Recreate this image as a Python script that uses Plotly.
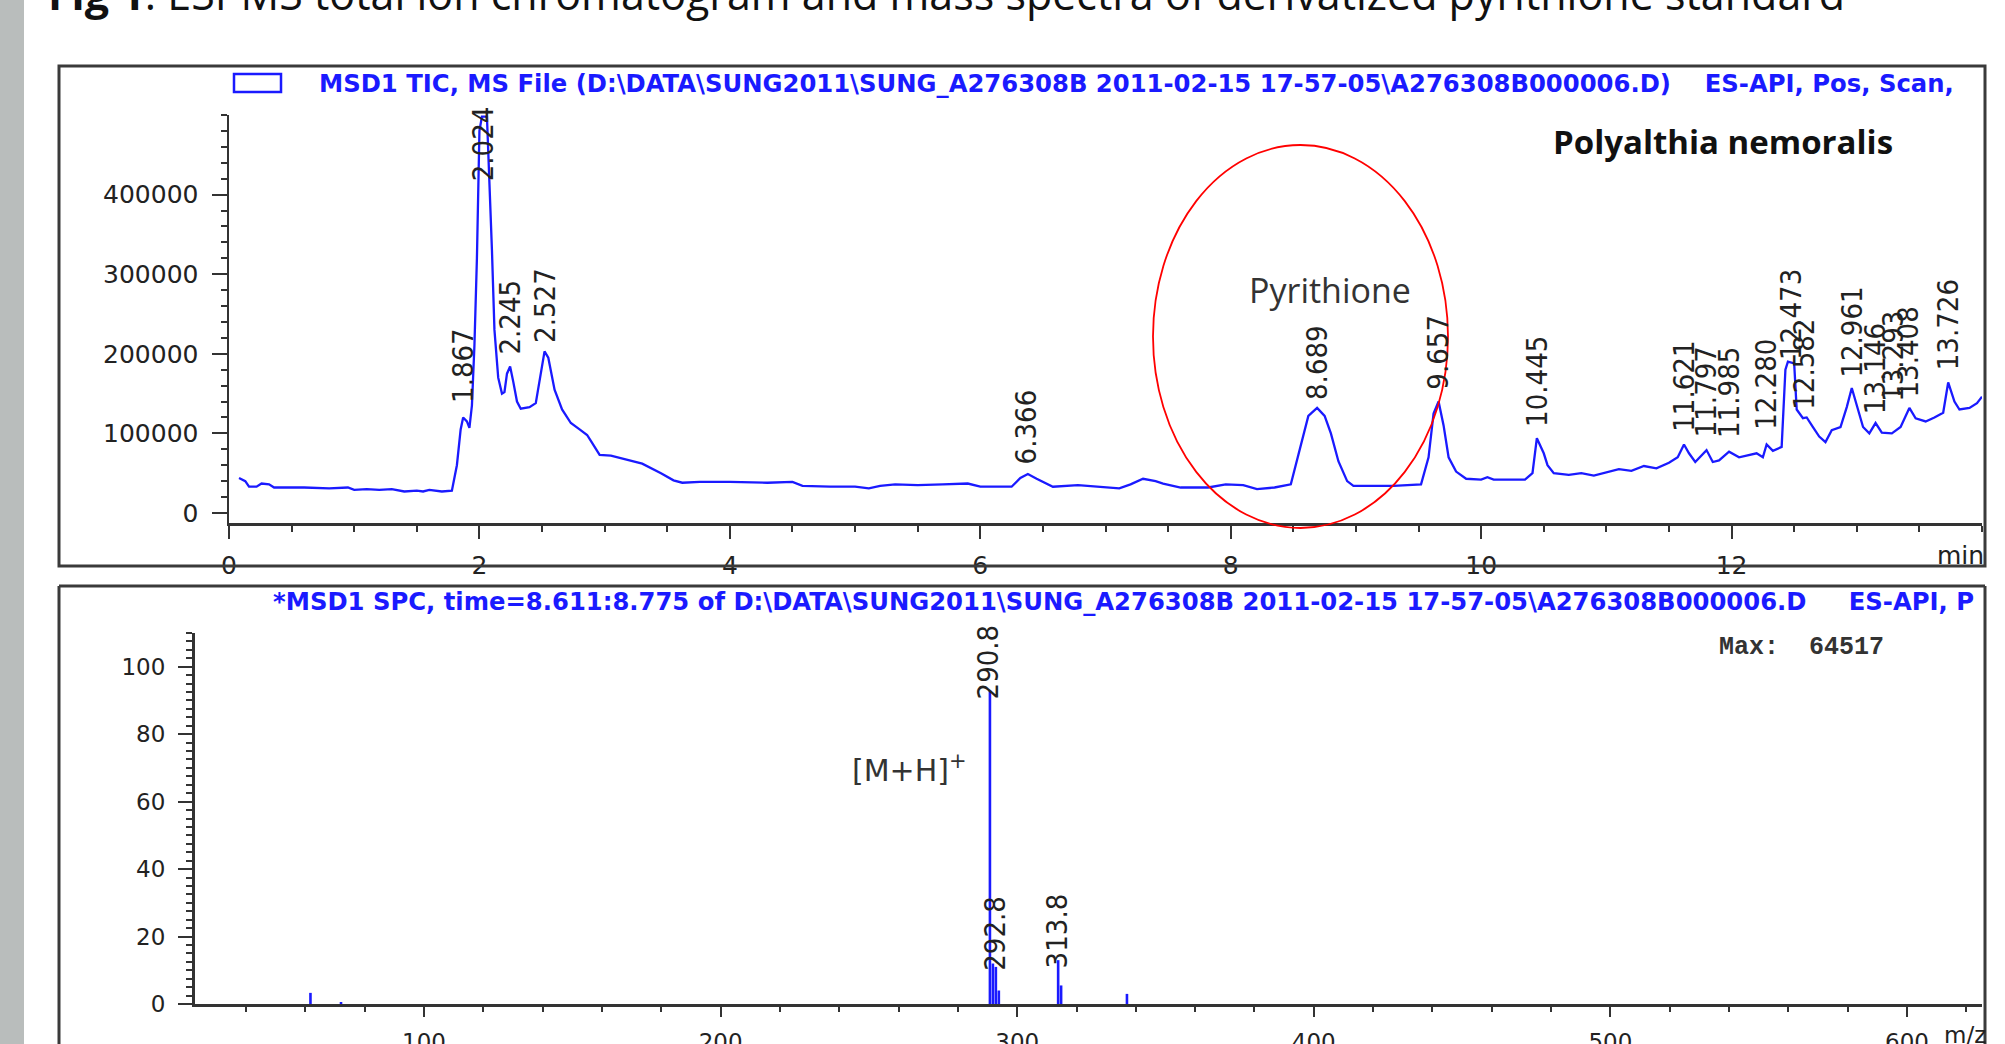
import plotly.graph_objects as go

W, H = 2005, 1044
def px(x): return x / W
def py(y): return 1 - y / H

# ---------------- data ----------------
tic_time = [0.08, 0.13, 0.16, 0.22, 0.26, 0.32, 0.36, 0.6, 0.8, 0.95, 1.0, 1.1, 1.2, 1.3, 1.4, 1.5,
            1.55, 1.6, 1.7, 1.78, 1.82, 1.85, 1.87, 1.9, 1.92, 1.94, 1.96, 1.98, 2.0, 2.02, 2.06,
            2.08, 2.1, 2.12, 2.15, 2.18, 2.2, 2.22, 2.245, 2.27, 2.3, 2.33, 2.4, 2.45, 2.48, 2.52,
            2.55, 2.6, 2.66, 2.73, 2.8, 2.86, 2.9, 2.96, 3.05, 3.16, 3.3, 3.45, 3.55, 3.62, 3.76,
            4.0, 4.3, 4.5, 4.58, 4.8, 5.0, 5.11, 5.2, 5.32, 5.5, 5.7, 5.9, 6.0, 6.25, 6.32, 6.38,
            6.45, 6.58, 6.78, 6.95, 7.11, 7.2, 7.3, 7.4, 7.46, 7.6, 7.82, 7.96, 8.1, 8.21, 8.35,
            8.48, 8.55, 8.62, 8.69, 8.75, 8.8, 8.86, 8.93, 8.98, 9.3, 9.52, 9.58, 9.62, 9.66, 9.7,
            9.74, 9.8, 9.88, 10.0, 10.05, 10.1, 10.35, 10.41, 10.445, 10.5, 10.53, 10.58, 10.7,
            10.8, 10.9, 11.0, 11.1, 11.2, 11.3, 11.4, 11.5, 11.57, 11.62, 11.66, 11.71, 11.8,
            11.85, 11.9, 11.98, 12.06, 12.2, 12.25, 12.28, 12.33, 12.4, 12.43, 12.45, 12.5, 12.52,
            12.57, 12.6, 12.65, 12.7, 12.75, 12.8, 12.87, 12.92, 12.96, 13.0, 13.05, 13.1, 13.15,
            13.2, 13.28, 13.35, 13.42, 13.47, 13.55, 13.62, 13.69, 13.73, 13.78, 13.82, 13.9,
            13.96, 14.0]
tic_int = [44000, 40000, 33000, 33000, 37000, 36000, 32000, 32000, 31000, 32000, 29000, 30000,
           29000, 30000, 27000, 28000, 27000, 29000, 27000, 28000, 60000, 105000, 120000, 115000,
           107000, 135000, 210000, 320000, 480000, 498000, 498000, 420000, 330000, 230000, 170000,
           150000, 152000, 175000, 184000, 165000, 140000, 131000, 133000, 138000, 165000, 203000,
           195000, 155000, 130000, 113000, 105000, 98000, 88000, 73000, 72000, 68000, 62000,
           50000, 41000, 38000, 39000, 39000, 38000, 39000, 34000, 33000, 33000, 31000, 34000,
           36000, 35000, 36000, 37000, 33000, 33000, 44000, 49000, 43000, 33000, 35000, 33000,
           31000, 36000, 43000, 40000, 37000, 32000, 32000, 36000, 35000, 30000, 32000, 36000,
           80000, 122000, 132000, 122000, 100000, 65000, 40000, 34000, 34000, 36000, 70000,
           125000, 140000, 110000, 70000, 52000, 43000, 42000, 45000, 42000, 42000, 50000, 94000,
           75000, 60000, 50000, 48000, 50000, 47000, 51000, 55000, 53000, 59000, 56000, 63000,
           70000, 86000, 75000, 64000, 79000, 64000, 66000, 77000, 70000, 75000, 70000, 86000,
           78000, 83000, 180000, 190000, 188000, 130000, 119000, 120000, 108000, 96000, 89000,
           104000, 108000, 133000, 157000, 135000, 108000, 100000, 113000, 101000, 100000,
           108000, 132000, 119000, 115000, 120000, 126000, 164000, 140000, 130000, 132000,
           138000, 146000]

peak_labels = ["1.867", "2.024", "2.245", "2.527", "6.366", "8.689", "9.657", "10.445", "11.621",
               "11.797", "11.985", "12.280", "12.473", "12.582", "12.961", "13.146", "13.293",
               "13.408", "13.726"]
peak_time = [1.867, 2.024, 2.245, 2.527, 6.366, 8.689, 9.657, 10.445, 11.621, 11.797, 11.985,
             12.280, 12.473, 12.582, 12.961, 13.146, 13.293, 13.408, 13.726]
peak_height = [126000, 404000, 186000, 201000, 48000, 130000, 142000, 96000, 89000, 82000, 82000,
               92000, 180000, 117000, 158000, 111000, 127000, 133000, 167000]

ms_mz = [61.7, 72.0, 290.8, 291.8, 292.8, 293.8, 313.8, 314.8, 337.0]
ms_abund = [3.3, 0.6, 93, 12, 11, 4, 13, 5.5, 3]
ms_labels = ["290.8", "292.8", "313.8"]
ms_label_mz = [290.2, 292.6, 313.4]
ms_label_y = [89.6, 9.2, 10.1]

tic_xticks = [0, 2, 4, 6, 8, 10, 12]
ms_xticks = [100, 200, 300, 400, 500, 600]
ms_yticks = [0, 20, 40, 60, 80, 100]
tic_yticks = [0, 100000, 200000, 300000, 400000]

# ---------------- styles ----------------
BLUE = "#1a1aff"
AX = "#333333"
TICKFONT_TOP = dict(family="DejaVu Sans", size=25, color="#222222")
TICKFONT_BOT = dict(family="DejaVu Sans", size=23, color="#222222")
LABELFONT = dict(family="Liberation Sans Narrow, Arial Narrow, DejaVu Sans Condensed, Liberation Sans",
                 size=29, color="#222222")
HEADFONT = dict(family="DejaVu Sans", size=24.3, color=BLUE, weight="bold")

fig = go.Figure()
fig.add_trace(go.Scatter(x=tic_time, y=tic_int, mode="lines", xaxis="x", yaxis="y",
                         line=dict(color=BLUE, width=2.3), hoverinfo="skip"))

sx, sy = [], []
for m, a in zip(ms_mz, ms_abund):
    sx += [m, m, None]
    sy += [0, a, None]
fig.add_trace(go.Scatter(x=sx, y=sy, mode="lines", xaxis="x2", yaxis="y2",
                         line=dict(color=BLUE, width=2.6), hoverinfo="skip"))

axis_common = dict(showline=True, linecolor=AX, linewidth=2.5, ticks="outside", tickcolor=AX,
                   tickwidth=2, showgrid=False, zeroline=False, automargin=False)

annotations = []
for lab, t, h in zip(peak_labels, peak_time, peak_height):
    annotations.append(dict(x=t, y=h, xref="x", yref="y", text=lab, textangle=-90,
                            showarrow=False, xanchor="center", yanchor="bottom", yshift=8,
                            font=LABELFONT))
for lab, m, h in zip(ms_labels, ms_label_mz, ms_label_y):
    annotations.append(dict(x=m, y=h, xref="x2", yref="y2", text=lab, textangle=-90,
                            showarrow=False, xanchor="center", yanchor="bottom",
                            font=LABELFONT))

def ptext(x, y, text, font, xanchor="left", yanchor="middle"):
    annotations.append(dict(x=px(x), y=py(y), xref="paper", yref="paper", text=text,
                            showarrow=False, xanchor=xanchor, yanchor=yanchor, font=font))

ptext(46, 25, "<b>Fig 1</b>. ESI-MS total ion chromatogram and mass spectra of derivatized pyrithione standard",
      dict(family="Open Sans", size=43, color="#111111"), yanchor="bottom")
ptext(317, 83, "MSD1 TIC, MS File (D:\\DATA\\SUNG2011\\SUNG_A276308B 2011-02-15 17-57-05\\A276308B000006.D)    ES-API, Pos, Scan,",
      HEADFONT)
ptext(271, 601, "*MSD1 SPC, time=8.611:8.775 of D:\\DATA\\SUNG2011\\SUNG_A276308B 2011-02-15 17-57-05\\A276308B000006.D     ES-API, P",
      HEADFONT)
ptext(1551, 141, "<b>Polyalthia nemoralis</b>", dict(family="Open Sans", size=33, color="#111111"))
ptext(1247, 290, "Pyrithione", dict(family="Open Sans", size=34, color="#333333"))
ptext(1717, 647, "<b>Max:  64517</b>", dict(family="Liberation Mono", size=25, color="#333333"))
ptext(850, 768, "[M+H]<sup>+</sup>", dict(family="DejaVu Sans", size=30, color="#333333"))
ptext(1986, 555, "min", TICKFONT_TOP, xanchor="right")
ptext(1942, 1035, "m/z", TICKFONT_BOT)

FRAME = dict(color="#3a3a3a", width=3)
shapes = [
    dict(type="rect", xref="paper", yref="paper", x0=0, x1=px(24), y0=0, y1=1,
         fillcolor="#b9bdbc", line=dict(width=0), layer="below"),
    dict(type="rect", xref="paper", yref="paper", x0=px(59), x1=px(1985), y0=py(566), y1=py(66),
         line=FRAME),
    dict(type="line", xref="paper", yref="paper", x0=px(59), x1=px(1985), y0=py(586), y1=py(586),
         line=FRAME),
    dict(type="line", xref="paper", yref="paper", x0=px(59), x1=px(59), y0=py(586), y1=0,
         line=FRAME),
    dict(type="line", xref="paper", yref="paper", x0=px(1985), x1=px(1985), y0=py(586), y1=0,
         line=FRAME),
    dict(type="rect", xref="paper", yref="paper", x0=px(234), x1=px(281), y0=py(92), y1=py(74),
         line=dict(color=BLUE, width=2.5)),
    dict(type="circle", xref="paper", yref="paper", x0=px(1153), x1=px(1448), y0=py(528), y1=py(145),
         line=dict(color="#ff0000", width=1.8)),
]

fig.update_layout(
    width=W, height=H, autosize=False, margin=dict(l=0, r=0, t=0, b=0, autoexpand=False),
    paper_bgcolor="white", plot_bgcolor="rgba(0,0,0,0)", showlegend=False,
    xaxis=dict(domain=[px(229), px(1982)], range=[0, 14], anchor="y", tickmode="array",
               tickvals=tic_xticks, ticklen=13, ticklabelstandoff=5, tickfont=TICKFONT_TOP,
               minor=dict(tickmode="linear", tick0=0, dtick=0.5, ticks="outside", ticklen=6,
                          tickcolor=AX, tickwidth=2, showgrid=False), **axis_common),
    yaxis=dict(domain=[py(523), py(115)], range=[-12600, 500000], anchor="x", tickmode="array",
               tickvals=tic_yticks, tickformat="d", ticklen=15, ticklabelstandoff=8,
               tickfont=TICKFONT_TOP,
               minor=dict(tickmode="linear", tick0=0, dtick=20000, ticks="outside", ticklen=6,
                          tickcolor=AX, tickwidth=2, showgrid=False), **axis_common),
    xaxis2=dict(domain=[px(194.5), px(1982)], range=[22.6, 625.3], anchor="y2", tickmode="array",
                tickvals=ms_xticks, ticklen=10, ticklabelstandoff=6, tickfont=TICKFONT_BOT,
                minor=dict(tickmode="linear", tick0=0, dtick=20, ticks="outside", ticklen=5,
                           tickcolor=AX, tickwidth=2, showgrid=False), **axis_common),
    yaxis2=dict(domain=[py(1004), py(633)], range=[0, 110], anchor="x2", tickmode="array",
                tickvals=ms_yticks, ticklen=14, ticklabelstandoff=8, tickfont=TICKFONT_BOT,
                minor=dict(tickmode="linear", tick0=0, dtick=2.5, ticks="outside", ticklen=6,
                           tickcolor=AX, tickwidth=2, showgrid=False), **axis_common),
    annotations=annotations, shapes=shapes,
)

fig.write_html(
    "out.html",
    config={"displayModeBar": False, "staticPlot": True},
    post_script="document.body.style.margin='0px';",
)
